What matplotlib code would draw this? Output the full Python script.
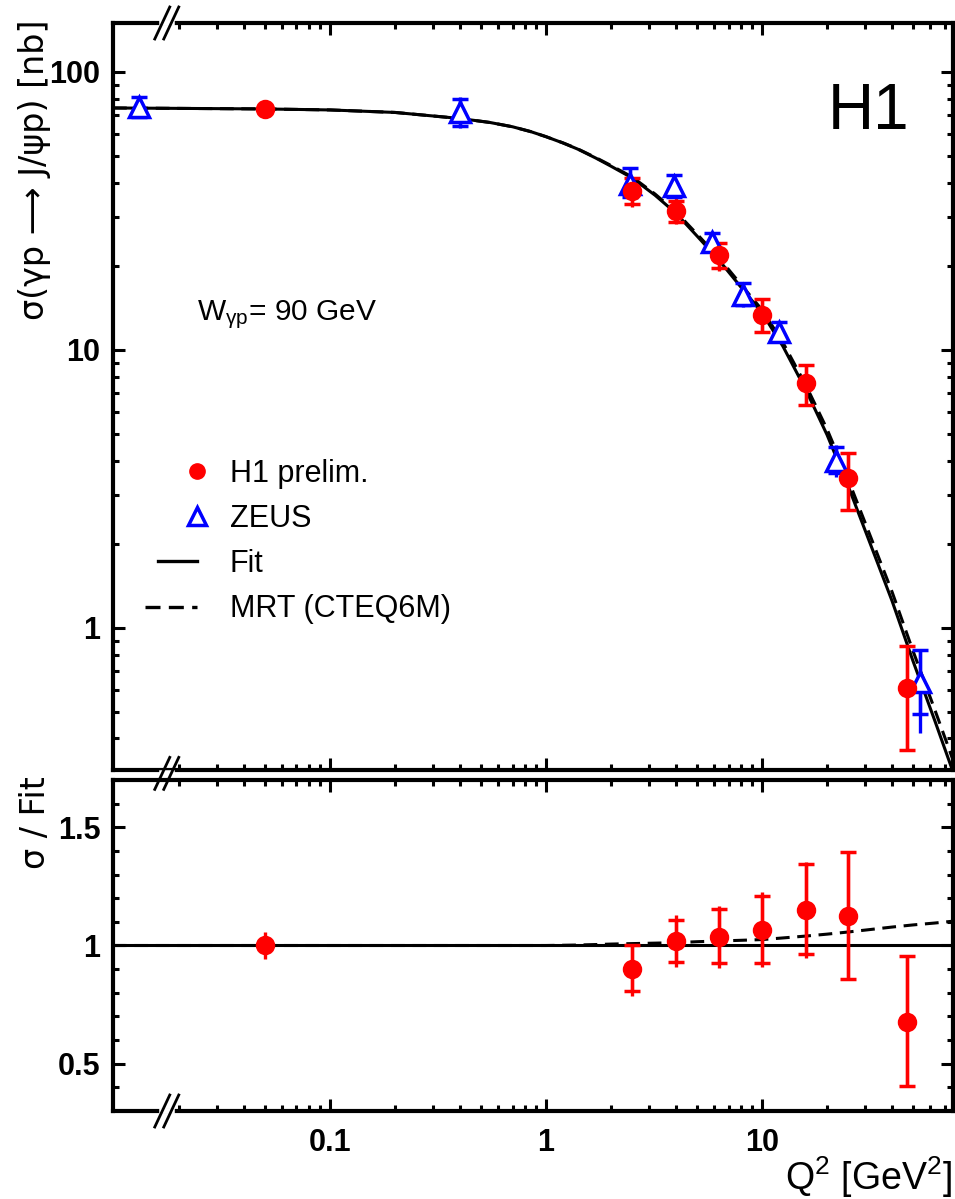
import numpy as np
import matplotlib
matplotlib.use('Agg')
import matplotlib.pyplot as plt
from matplotlib.lines import Line2D
from matplotlib.legend_handler import HandlerBase
from matplotlib.ticker import NullFormatter
from matplotlib.transforms import IdentityTransform

plt.rcParams['font.family'] = ['Liberation Sans', 'DejaVu Sans']
plt.rcParams['mathtext.fontset'] = 'custom'
plt.rcParams['mathtext.rm'] = 'Liberation Sans'
plt.rcParams['mathtext.it'] = 'Liberation Sans'
plt.rcParams['mathtext.bf'] = 'Liberation Sans:bold'

# H1 preliminary: cross section, stat (caps) and total (line) bounds
h1_q2 = [0.05, 2.5, 4.0, 6.3, 10.0, 16.0, 25.0, 47.0]
h1_sig = [73.3, 37.3, 31.7, 21.9, 13.4, 7.6, 3.46, 0.61]
h1_stat_hi = [73.3, 41.5, 34.4, 24.3, 15.2, 8.8, 4.27, 0.857]
h1_stat_lo = [73.3, 33.4, 28.9, 19.7, 11.6, 6.35, 2.66, 0.364]
h1_tot_hi = [77.0, 41.6, 35.2, 24.5, 15.3, 8.85, 4.28, 0.86]
h1_tot_lo = [69.5, 32.7, 28.4, 19.3, 11.5, 6.3, 2.65, 0.36]

# H1 ratio to fit
h1_rat = [1.0, 0.90, 1.017, 1.035, 1.067, 1.149, 1.125, 0.678]
h1_rat_stat_hi = [1.0, 1.0, 1.106, 1.156, 1.208, 1.343, 1.397, 0.957]
h1_rat_stat_lo = [1.0, 0.806, 0.929, 0.925, 0.925, 0.962, 0.858, 0.404]
h1_rat_tot_hi = [1.057, 1.0, 1.128, 1.166, 1.227, 1.354, 1.397, 0.957]
h1_rat_tot_lo = [0.943, 0.787, 0.908, 0.905, 0.908, 0.946, 0.858, 0.404]

# ZEUS
zeus_q2 = [0.013, 0.4, 2.45, 3.9, 5.9, 8.2, 12.0, 22.0, 54.0]
zeus_sig = [74.5, 71.8, 39.5, 38.9, 24.5, 15.8, 11.6, 3.97, 0.64]
zeus_stat_hi = [81.0, 80.0, 45.0, 42.6, 26.3, 17.4, 12.6, 4.49, 0.83]
zeus_stat_lo = [69.0, 64.0, 35.5, 35.6, 22.9, 14.5, 10.8, 3.60, 0.49]
zeus_tot_hi = [81.5, 81.0, 45.6, 42.9, 26.5, 17.6, 12.7, 4.55, 0.83]
zeus_tot_lo = [68.5, 63.0, 35.0, 35.2, 22.6, 14.3, 10.6, 3.50, 0.42]

# fit curve and MRT / fit ratio
fit_q2 = [0.0099, 0.05, 0.1, 0.2, 0.4, 0.55, 0.7, 0.85, 1.0, 1.2, 1.4, 1.7, 2.0, 2.5,
          3.2, 4.0, 5.0, 6.3, 8.0, 10.0, 12.5, 16.0, 20.0, 25.0, 32.0, 40.0, 50.0, 63.0, 77.0]
fit_sig = [74.2, 73.6, 73.0, 71.5, 68.0, 65.8, 63.5, 61.0, 58.5, 55.5, 52.8, 49.0, 45.8, 41.6,
           36.0, 31.0, 25.7, 21.1, 16.8, 13.6, 10.3, 7.15, 4.95, 3.25, 1.97, 1.25, 0.76, 0.465, 0.30]
mrt_ratio = [1.0, 1.0, 1.0, 1.0, 1.0, 1.0, 1.0, 1.0, 1.0, 1.001, 1.002, 1.004, 1.006, 1.008,
             1.010, 1.012, 1.016, 1.019, 1.022, 1.025, 1.032, 1.040, 1.048, 1.057, 1.068,
             1.078, 1.087, 1.095, 1.103]

fig = plt.figure(figsize=(9.55, 11.99), dpi=100)
ax1 = fig.add_axes([113 / 955, 1 - 770 / 1199, 840 / 955, 747 / 1199])
ax2 = fig.add_axes([113 / 955, 1 - 1111 / 1199, 840 / 955, 331 / 1199])

mrt_sig = np.array(fit_sig) * np.array(mrt_ratio)
dash = (0, (4.5, 2.5))

# top panel
ax1.plot(fit_q2, fit_sig, color='k', lw=2.2, zorder=1)
ax1.plot(fit_q2, mrt_sig, color='k', lw=2.2, ls=dash, zorder=1)


def draw_points(ax, x, y, slo, shi, tlo, thi, color, marker, ms, mfc):
    y = np.array(y)
    ax.errorbar(x, y, yerr=[y - np.array(tlo), np.array(thi) - y], fmt='none',
                ecolor=color, elinewidth=2.4, capsize=0, zorder=2)
    ax.errorbar(x, y, yerr=[y - np.array(slo), np.array(shi) - y], fmt=marker,
                color=color, mfc=mfc, mec=color, mew=2.5, ms=ms, elinewidth=2.4,
                capsize=5.5, capthick=2.2, zorder=3)


draw_points(ax1, zeus_q2, zeus_sig, zeus_stat_lo, zeus_stat_hi, zeus_tot_lo, zeus_tot_hi,
            'blue', '^', 14, 'white')
draw_points(ax1, h1_q2, h1_sig, h1_stat_lo, h1_stat_hi, h1_tot_lo, h1_tot_hi,
            'red', 'o', 11.5, 'red')

ax1.set_xscale('log')
ax1.set_yscale('log')
ax1.set_xlim(0.0099, 76.6)
ax1.set_ylim(0.308, 150)
ax1.set_yticks([1, 10, 100], labels=['1', '10', '100'], fontsize=22, fontweight='bold')
ax1.yaxis.set_minor_formatter(NullFormatter())

# bottom panel
ax2.axhline(1.0, color='k', lw=2.2, zorder=1)
ax2.plot(fit_q2, mrt_ratio, color='k', lw=2.2, ls=dash, zorder=1)
draw_points(ax2, h1_q2, h1_rat, h1_rat_stat_lo, h1_rat_stat_hi, h1_rat_tot_lo, h1_rat_tot_hi,
            'red', 'o', 11.5, 'red')
ax2.set_xscale('log')
ax2.set_xlim(0.0099, 76.6)
ax2.set_ylim(0.3, 1.7)
ax2.set_yticks([0.5, 1.0, 1.5], labels=['0.5', '1', '1.5'], fontsize=22, fontweight='bold')
ax2.set_yticks(np.arange(0.4, 1.71, 0.1), minor=True)

minor_x = [m * d for d in (0.01, 0.1, 1, 10) for m in range(2, 10) if m * d < 76]
for ax in (ax1, ax2):
    ax.set_xticks([0.1, 1, 10], labels=['0.1', '1', '10'], fontsize=22, fontweight='bold')
    ax.set_xticks(minor_x, minor=True)
    ax.xaxis.set_minor_formatter(NullFormatter())
    ax.tick_params(which='both', direction='in', top=True, right=True, width=2.2)
    ax.tick_params(which='major', length=8.5, pad=9)
    ax.tick_params(which='minor', length=4)
    for s in ax.spines.values():
        s.set_linewidth(3)
ax1.tick_params(labelbottom=False)
ax2.tick_params(axis='x', pad=12)


# axis break marks
def axis_break(ax, yfrac):
    x0, y0 = ax.transAxes.transform((0.064, yfrac))
    ax.add_line(Line2D([x0 - 5, x0 + 5], [y0, y0], transform=IdentityTransform(),
                       color='white', lw=4, clip_on=False, zorder=10))
    for dx in (-4.5, 4.5):
        ax.add_line(Line2D([x0 + dx - 7.5, x0 + dx + 7.5], [y0 - 16, y0 + 16],
                           transform=IdentityTransform(), color='k', lw=2,
                           clip_on=False, zorder=11))


axis_break(ax1, 1.0)
axis_break(ax2, 1.02)
axis_break(ax2, 0.0)

# texts
ax1.text(0.1, 0.602, r'W$_{\gamma p}$= 90 GeV', transform=ax1.transAxes, fontsize=21.5,
         ha='left', va='baseline')
ax1.text(0.899, 0.881, 'H1', transform=ax1.transAxes, fontsize=46, ha='center', va='center')
fig.text(35 / 955, 1 - 20 / 1199, 'σ(γp ⟶ J/ψp) [nb]', rotation=90, fontsize=24,
         family='DejaVu Sans', ha='center', va='top')
fig.text(35 / 955, 1 - 776 / 1199, 'σ / Fit', rotation=90, fontsize=24,
         family='DejaVu Sans', ha='center', va='top')
fig.text(952 / 955, 1 - 1190 / 1199, r'Q$^{2}$ [GeV$^{2}$]', fontsize=27, ha='right',
         va='baseline')


# legend: markers at the right end of the handle, Fit line shorter than the dashed one
class EndMarker(HandlerBase):
    def create_artists(self, legend, orig, xd, yd, w, h, fs, trans):
        m = Line2D([-xd + w], [(h - yd) / 2])
        m.update_from(orig)
        m.set_transform(trans)
        return [m]


class PartLine(HandlerBase):
    def __init__(self, start):
        super().__init__()
        self.start = start

    def create_artists(self, legend, orig, xd, yd, w, h, fs, trans):
        y = (h - yd) / 2
        ln = Line2D([-xd + self.start * w, -xd + w], [y, y])
        ln.update_from(orig)
        ln.set_transform(trans)
        return [ln]


h1_h = Line2D([], [], ls='none', marker='o', color='red', ms=11)
zeus_h = Line2D([], [], ls='none', marker='^', mfc='white', mec='blue', mew=2.5, ms=13)
fit_h = Line2D([], [], color='k', lw=2.4)
mrt_h = Line2D([], [], color='k', lw=2.4, ls=dash)
ax1.legend([h1_h, zeus_h, fit_h, mrt_h], ['H1 prelim.', 'ZEUS', 'Fit', 'MRT (CTEQ6M)'],
           loc='center left', bbox_to_anchor=(0.038, 0.306), frameon=False,
           prop={'family': 'Liberation Sans', 'size': 22}, handlelength=1.7,
           handletextpad=1.08, labelspacing=0.5, borderpad=0, borderaxespad=0,
           handler_map={h1_h: EndMarker(), zeus_h: EndMarker(),
                        fit_h: PartLine(0.25), mrt_h: PartLine(0.0)})

fig.savefig('out.png', dpi=100)
